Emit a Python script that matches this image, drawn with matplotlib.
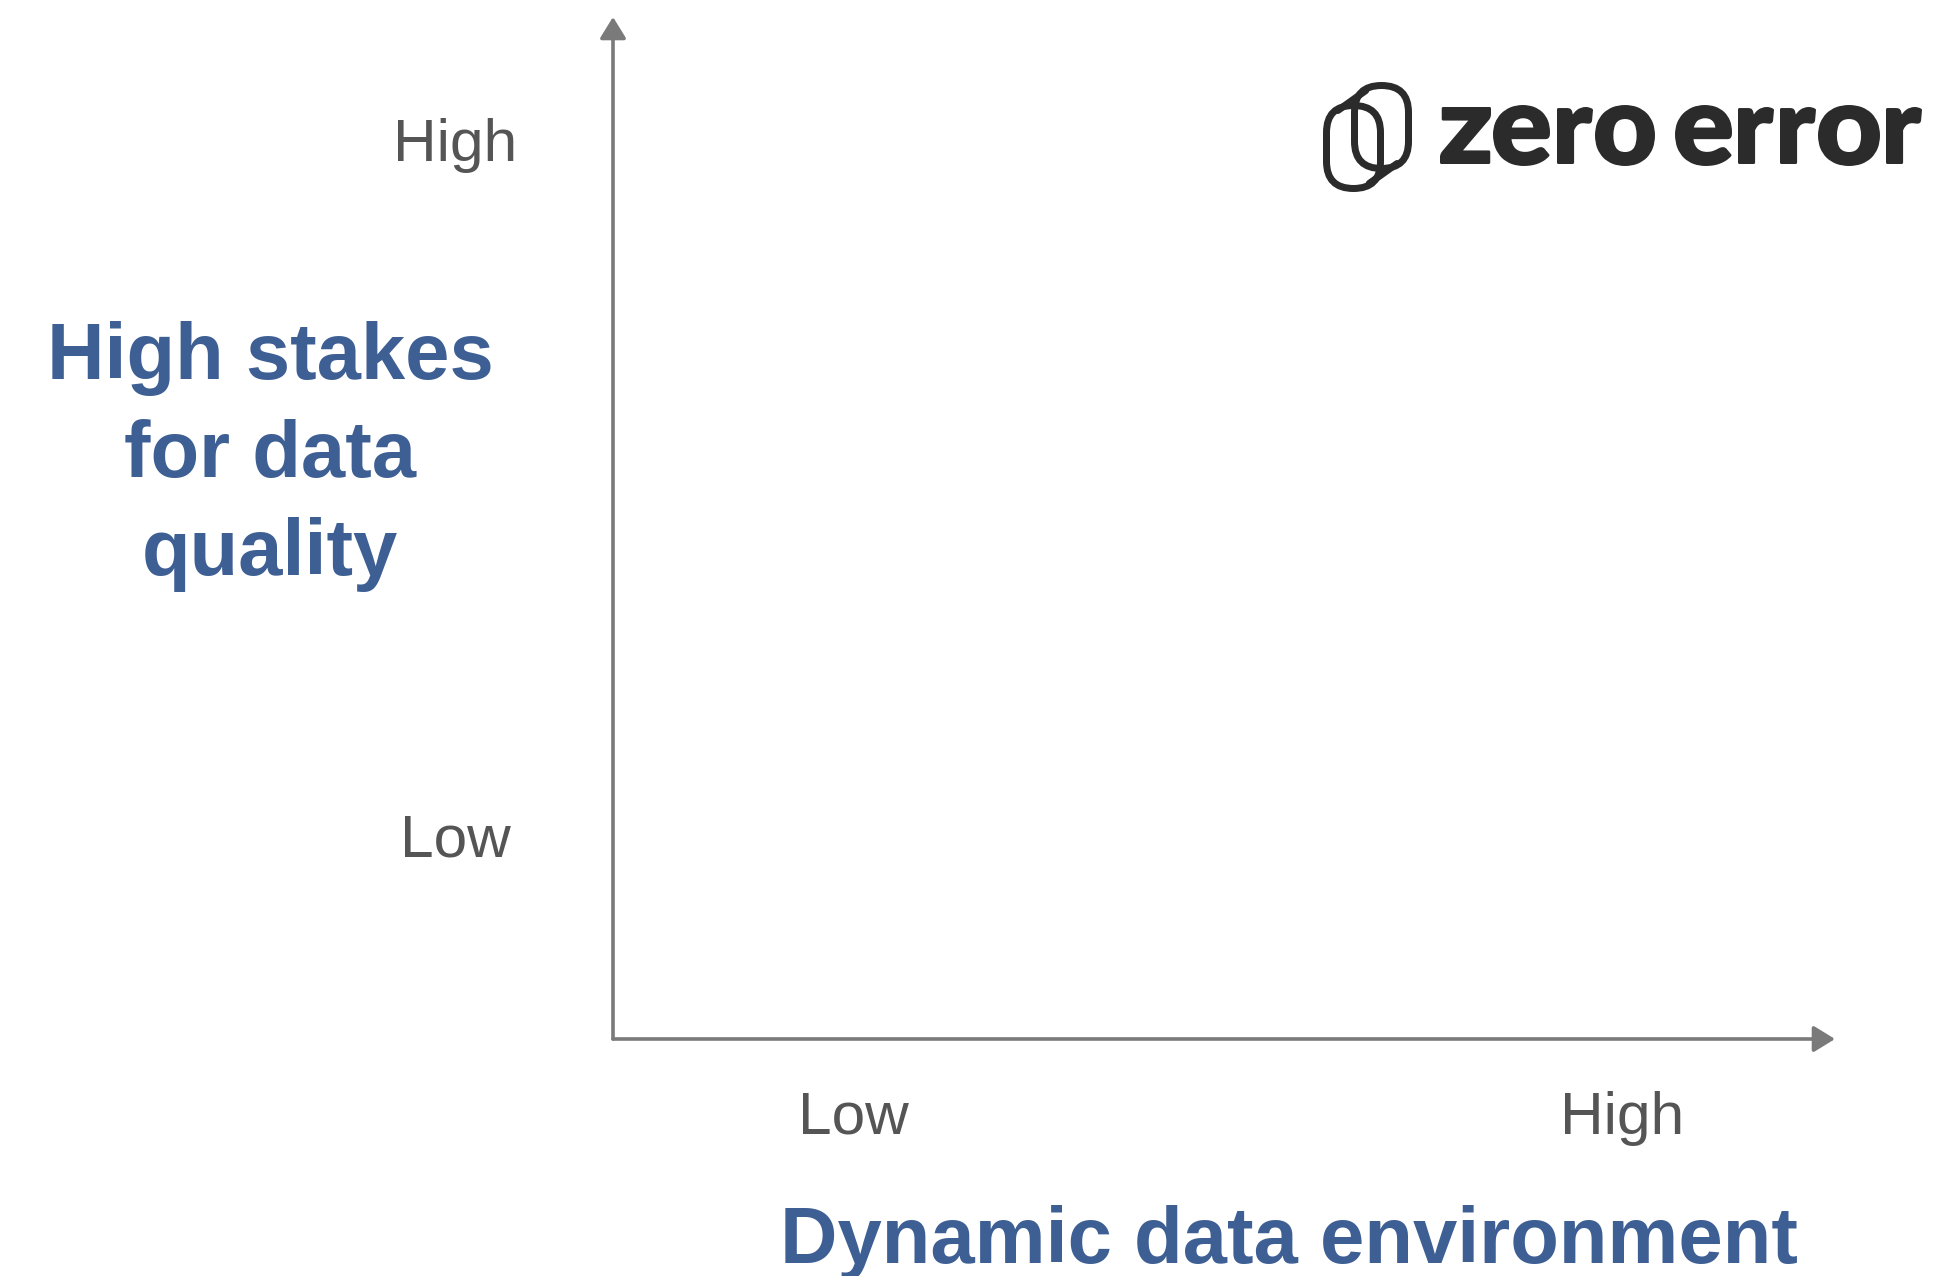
import math
import matplotlib
matplotlib.use("Agg")
import matplotlib.pyplot as plt
from matplotlib.textpath import TextPath
from matplotlib.font_manager import FontProperties
from matplotlib.patches import PathPatch, FancyBboxPatch
from matplotlib.transforms import Affine2D

# ---- content ----
x_ticks = [1.97, 8.26]
x_labels = ["Low", "High"]
y_ticks = [1.79, 8.59]
y_labels = ["Low", "High"]
x_title = "Dynamic data environment"
y_title_lines = ["High stakes", "for data", "quality"]
logo_text = "zero error"

BLUE = "#3e5f94"
GRAY_TXT = "#555555"
AXIS_C = "#7a7a7a"
LOGO_C = "#2b2b2b"

W, H = 1957, 1276
fig = plt.figure(figsize=(W / 100, H / 100), dpi=100)
fig.patch.set_facecolor("white")

# main axes (pixel geometry of the reference)
ax_l, ax_r, ax_t, ax_b = 613, 1835, 17, 1039
AW, AH = ax_r - ax_l, ax_b - ax_t
ax = fig.add_axes([ax_l / W, (H - ax_b) / H, AW / W, AH / H])
ax.set_xlim(0, 10)
ax.set_ylim(0, 10)
for s in ax.spines.values():
    s.set_visible(False)
ax.set_facecolor("none")

# axis arrows
arrow_kw = dict(arrowstyle="-|>,head_length=1.3,head_width=0.8", mutation_scale=10,
                color=AXIS_C, lw=2.6, shrinkA=0, shrinkB=0)
ax.annotate("", xy=(0, 1), xytext=(0, 0), xycoords="axes fraction",
            arrowprops=arrow_kw, annotation_clip=False)
ax.annotate("", xy=(1, 0), xytext=(0, 0), xycoords="axes fraction",
            arrowprops=arrow_kw, annotation_clip=False)

# ticks
tick_font = dict(family=["Liberation Sans", "DejaVu Sans"], size=43.5, color=GRAY_TXT)
ax.set_xticks(x_ticks, x_labels, va="baseline", ha="center", **tick_font)
ax.set_yticks(y_ticks, y_labels, va="baseline", ha="center", **tick_font)
ax.tick_params(axis="x", length=0, pad=95 * 0.72)
ax.tick_params(axis="y", length=0, pad=158 * 0.72)

# axis titles
title_font = dict(family=["Liberation Sans", "DejaVu Sans"], size=57.3,
                  weight="bold", color=BLUE)
ax.set_xlabel(x_title, va="baseline", ha="center", **title_font)
ax.xaxis.set_label_coords((1289 - ax_l) / AW, -(1263 - ax_b) / AH)

y_baselines_px = [379, 477, 575]
for line, yb in zip(y_title_lines, y_baselines_px):
    ax.text((270 - ax_l) / AW, (ax_b - yb) / AH, line, transform=ax.transAxes,
            ha="center", va="baseline", clip_on=False, **title_font)

# ---- logo overlay (pixel coordinates) ----
lg = fig.add_axes([0, 0, 1, 1], zorder=3)
lg.set_xlim(0, W)
lg.set_ylim(H, 0)
lg.axis("off")
lg.set_facecolor("none")

fp = FontProperties(family=["Lato", "DejaVu Sans"], weight="black")
# horizontal extent of each glyph of the wordmark (pixels)
glyph_x = [(1440, 1491), (1493, 1550), (1557, 1593), (1595, 1655),
           (1675, 1732), (1738, 1774), (1780, 1816), (1818, 1880), (1886, 1922)]
stroke = 2.6
letters = [c for c in logo_text if c != " "]
for ch, (x0, x1) in zip(letters, glyph_x):
    round_glyph = ch in "eo"
    top = 105 if round_glyph else 107
    bot = 166 if round_glyph else 164
    tp = TextPath((0, 0), ch, size=100, prop=fp)
    ext = tp.get_extents()
    sx = (x1 - x0 - stroke) / ext.width
    sy = (bot - top - stroke) / ext.height
    tr = (Affine2D().translate(-ext.x0, -ext.y0).scale(sx, -sy)
          .translate(x0 + stroke / 2, bot - stroke / 2))
    lg.add_patch(PathPatch(tr.transform_path(tp), facecolor=LOGO_C,
                           edgecolor=LOGO_C, lw=stroke * 0.72, joinstyle="round"))

# icon: two offset pills joined by tangent lines
lw_px = 7
lw_pt = lw_px * 0.72
pill_w, pill_h = 54, 83
pills = [(1326.5, 105.5), (1354.5, 85.5)]
r = pill_w / 2
for (px, py) in pills:
    lg.add_patch(FancyBboxPatch((px, py), pill_w, pill_h,
                                boxstyle=f"round,pad=0,rounding_size={r}",
                                facecolor="none", edgecolor=LOGO_C, lw=lw_pt))
dx = pills[1][0] - pills[0][0]
dy = pills[1][1] - pills[0][1]
L = math.hypot(dx, dy)
nx, ny = -dy / L, dx / L
if ny < 0:
    nx, ny = -nx, -ny
cx = pills[0][0] + r
top_c = pills[0][1] + r
bot_c = pills[0][1] + pill_h - r
p1 = (cx - r * nx, top_c - r * ny)
p2 = (cx + r * nx, bot_c + r * ny)
for (qx, qy) in (p1, p2):
    lg.plot([qx, qx + dx], [qy, qy + dy], color=LOGO_C, lw=lw_pt, solid_capstyle="round")

fig.savefig("out.png", dpi=100, facecolor="white")
